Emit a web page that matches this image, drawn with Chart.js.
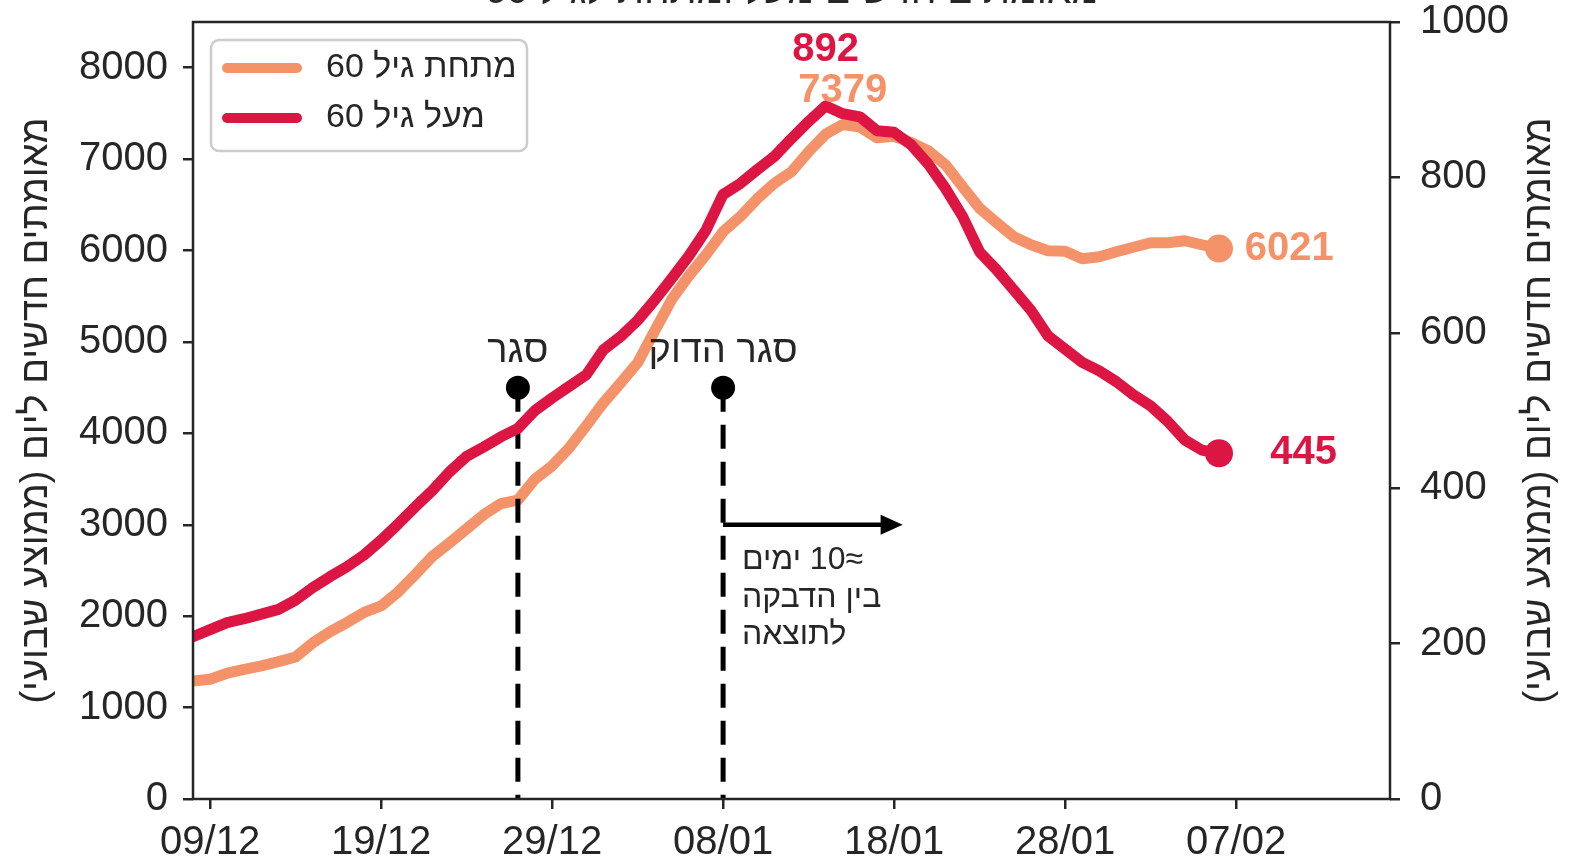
<!DOCTYPE html>
<html lang="he">
<head>
<meta charset="utf-8">
<title>מאומתים חדשים מעל ומתחת לגיל 60</title>
<script src="https://cdn.jsdelivr.net/npm/chart.js@4.4.1/dist/chart.umd.min.js"></script>
<style>
  html, body { margin: 0; padding: 0; background: #fff; }
  #wrap { width: 1571px; height: 863px; position: relative; }
</style>
</head>
<body>
<div id="wrap"><canvas id="chart" width="1571" height="863"></canvas></div>
<script>
// יום 0 = 09/12
const days = [-1, 0, 1, 2, 3, 4, 5, 6, 7, 8, 9, 10, 11, 12, 13, 14, 15, 16, 17, 18, 19,
  20, 21, 22, 23, 24, 25, 26, 27, 28, 29, 30, 31, 32, 33, 34, 35, 36, 37, 38, 39,
  40, 41, 42, 43, 44, 45, 46, 47, 48, 49, 50, 51, 52, 53, 54, 55, 56, 57, 58, 59];

// מתחת לגיל 60 (ציר שמאלי)
const under60 = [1290, 1310, 1376, 1417, 1456, 1503, 1554, 1707, 1828, 1930, 2041,
  2112, 2265, 2456, 2654, 2802, 2955, 3110, 3230, 3270, 3500,
  3645, 3840, 4083, 4334, 4550, 4772, 5122, 5466, 5724, 5954,
  6206, 6370, 6567, 6736, 6862, 7081, 7274, 7379, 7350, 7234,
  7250, 7180, 7092, 6939, 6698, 6463, 6304, 6151, 6063, 5998,
  5992, 5910, 5932, 5987, 6036, 6085, 6085, 6107, 6063, 6021];

// מעל גיל 60 (ציר ימני)
const over60 = [209, 218, 227, 232, 238, 244, 256, 272, 286, 299, 314,
  333, 354, 376, 397, 421, 441, 453, 466, 477, 500,
  516, 531, 546, 578, 595, 616, 642, 670, 699, 732,
  778, 792, 810, 827, 850, 872, 892, 882, 878, 860,
  858, 842, 817, 786, 750, 704, 681, 655, 629, 596,
  579, 562, 551, 537, 520, 506, 486, 462, 449, 445];

const seriesLabels = ['מתחת גיל 60', 'מעל גיל 60'];
const seriesColors = ['#F4936A', '#DC1543'];

const xTickValues = [0, 10, 20, 30, 40, 50, 60];
const xTickLabels = ['09/12', '19/12', '29/12', '08/01', '18/01', '28/01', '07/02'];
const leftTicks = [0, 1000, 2000, 3000, 4000, 5000, 6000, 7000, 8000];
const rightTicks = [0, 200, 400, 600, 800, 1000];

const lockdownDays = [18, 30];
const lockdownNames = ['סגר', 'סגר הדוק'];
const lockdownTop = 4500;

const titleText = 'מאומתים חדשים מעל ומתחת לגיל 60';
const axisTitle = 'מאומתים חדשים ליום (ממוצע שבועי)';
const noteLines = ['≈10 ימים', 'בין הדבקה', 'לתוצאה'];

const FONT = "'Liberation Sans', Arial, 'DejaVu Sans', sans-serif";
const INK = '#262626';

const last = days.length - 1;
const toPoints = vals => days.map((d, i) => ({ x: d, y: vals[i] }));

const datasets = [
  {
    label: seriesLabels[1], data: toPoints(over60), yAxisID: 'y1', order: 0,
    borderColor: seriesColors[1], backgroundColor: seriesColors[1],
    borderWidth: 11, borderJoinStyle: 'round', borderCapStyle: 'round', tension: 0,
    pointRadius: c => c.dataIndex === last ? 14 : 0, pointBorderWidth: 0,
    pointBackgroundColor: seriesColors[1]
  },
  {
    label: seriesLabels[0], data: toPoints(under60), yAxisID: 'y', order: 2,
    borderColor: seriesColors[0], backgroundColor: seriesColors[0],
    borderWidth: 11, borderJoinStyle: 'round', borderCapStyle: 'round', tension: 0,
    pointRadius: c => c.dataIndex === last ? 14 : 0, pointBorderWidth: 0,
    pointBackgroundColor: seriesColors[0]
  }
];
lockdownDays.forEach(d => {
  datasets.push({
    data: [{ x: d, y: lockdownTop }, { x: d, y: 0 }], yAxisID: 'y', order: 1,
    borderColor: '#000', backgroundColor: '#000', borderWidth: 5, borderDash: [24, 13],
    pointRadius: c => c.dataIndex === 0 ? 12 : 0, pointBorderWidth: 0,
    pointBackgroundColor: '#000'
  });
});

function text(ctx, s, x, y, size, color, align, bold, dir, base) {
  ctx.font = (bold ? 'bold ' : '') + size + 'px ' + FONT;
  ctx.fillStyle = color;
  ctx.textAlign = align;
  ctx.textBaseline = base || 'middle';
  ctx.direction = dir || 'rtl';
  ctx.fillText(s, x, y);
}

const decor = {
  id: 'decor',
  afterDatasetsDraw(chart) {
    const { ctx, chartArea: a, scales } = chart;
    const X = v => scales.x.getPixelForValue(v);
    const YL = v => scales.y.getPixelForValue(v);
    const YR = v => scales.y1.getPixelForValue(v);
    ctx.save();

    // מסגרת
    ctx.strokeStyle = INK;
    ctx.lineWidth = 2.5;
    ctx.strokeRect(a.left, a.top, a.right - a.left, a.bottom - a.top);

    // כותרת (חתוכה בראש התמונה)
    text(ctx, titleText, (a.left + a.right) / 2, 3, 39, INK, 'center', false, 'rtl', 'alphabetic');

    // כותרות צירים
    [37, 1540].forEach(x => {
      ctx.save();
      ctx.translate(x, (a.top + a.bottom) / 2);
      ctx.rotate(-Math.PI / 2);
      text(ctx, axisTitle, 0, 0, 38, INK, 'center');
      ctx.restore();
    });

    // סגרים
    lockdownDays.forEach((d, i) => {
      text(ctx, lockdownNames[i], X(d), YL(4900), 38, INK, 'center');
    });

    // חץ
    const ay = YL(3000), ax0 = X(30), ax1 = X(40.5);
    ctx.strokeStyle = '#000';
    ctx.fillStyle = '#000';
    ctx.lineWidth = 4.5;
    ctx.beginPath();
    ctx.moveTo(ax0, ay);
    ctx.lineTo(ax1 - 18, ay);
    ctx.stroke();
    ctx.beginPath();
    ctx.moveTo(ax1, ay);
    ctx.lineTo(ax1 - 22, ay - 10);
    ctx.lineTo(ax1 - 22, ay + 10);
    ctx.closePath();
    ctx.fill();

    // הערה
    noteLines.forEach((s, i) => {
      text(ctx, s, X(31.1), YL(2610) + i * 37.5, 32, INK, 'left');
    });

    // ערכי שיא וסוף
    text(ctx, '892', X(36), YR(964), 40, seriesColors[1], 'center', true, 'ltr');
    text(ctx, '7379', X(37), YL(7745), 40, seriesColors[0], 'center', true, 'ltr');
    text(ctx, '6021', X(60.5), YL(under60[last]), 40, seriesColors[0], 'left', true, 'ltr');
    text(ctx, '445', X(62), YR(over60[last]), 40, seriesColors[1], 'left', true, 'ltr');

    ctx.restore();
  },
  afterDraw(chart) {
    const { ctx } = chart;
    ctx.save();
    // מקרא
    ctx.beginPath();
    ctx.roundRect(211, 40, 316, 111, 8);
    ctx.fillStyle = 'rgba(255,255,255,0.8)';
    ctx.fill();
    ctx.strokeStyle = '#cccccc';
    ctx.lineWidth = 2.5;
    ctx.stroke();
    [0, 1].forEach(i => {
      const y = 68 + i * 50;
      ctx.strokeStyle = seriesColors[i];
      ctx.lineWidth = 10;
      ctx.lineCap = 'round';
      ctx.beginPath();
      ctx.moveTo(227, y);
      ctx.lineTo(297, y);
      ctx.stroke();
      text(ctx, seriesLabels[i], 326, y, 34, INK, 'left');
    });
    ctx.restore();
  }
};

const tickFont = { family: FONT, size: 40 };
const gridOpts = { display: true, drawOnChartArea: false, drawTicks: true, tickLength: 10, color: INK, lineWidth: 2.5 };
const noPad = s => { s.paddingTop = 0; s.paddingBottom = 0; s.paddingLeft = 0; s.paddingRight = 0; };

new Chart(document.getElementById('chart'), {
  type: 'line',
  data: { datasets },
  options: {
    responsive: false,
    animation: false,
    events: [],
    layout: { padding: { top: 22, left: 0, right: 0, bottom: 0 } },
    plugins: { legend: { display: false }, tooltip: { enabled: false }, title: { display: false } },
    scales: {
      x: {
        type: 'linear', min: -1, max: 69,
        afterBuildTicks: s => { s.ticks = xTickValues.map(v => ({ value: v })); },
        afterFit: s => { s.height = 64; noPad(s); },
        ticks: {
          autoSkip: false, maxRotation: 0, padding: 10, color: INK, font: tickFont,
          callback: v => xTickLabels[xTickValues.indexOf(v)]
        },
        grid: gridOpts,
        border: { display: false }
      },
      y: {
        position: 'left', min: 0, max: 8500,
        afterBuildTicks: s => { s.ticks = leftTicks.map(v => ({ value: v })); },
        afterFit: s => { s.width = 193; noPad(s); },
        ticks: { padding: 15, color: INK, font: tickFont, callback: v => String(v) },
        grid: gridOpts,
        border: { display: false }
      },
      y1: {
        position: 'right', min: 0, max: 1000,
        afterBuildTicks: s => { s.ticks = rightTicks.map(v => ({ value: v })); },
        afterFit: s => { s.width = 181; noPad(s); },
        ticks: { padding: 20, color: INK, font: tickFont, callback: v => String(v) },
        grid: gridOpts,
        border: { display: false }
      }
    }
  },
  plugins: [decor]
});
</script>
</body>
</html>
